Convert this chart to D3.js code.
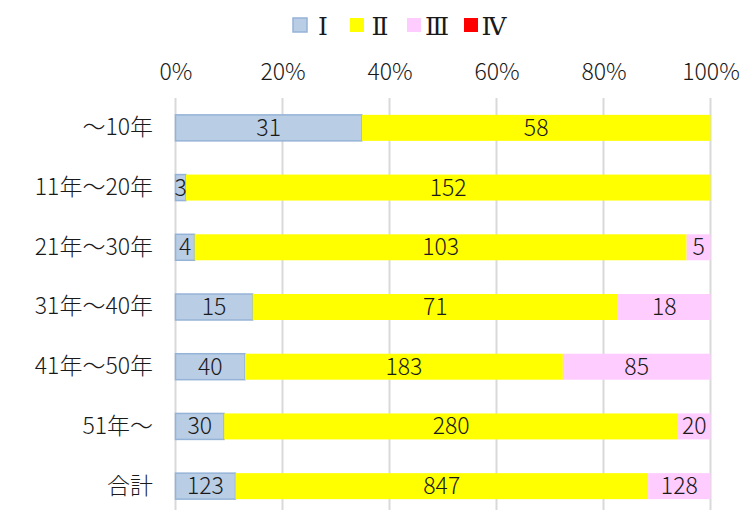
<!DOCTYPE html>
<html>
<head>
<meta charset="UTF-8" />
<script src="https://d3js.org/d3.v7.min.js"></script>
<style>
  body { margin: 0; background: #fff; }
  text { font-family: "Noto Sans CJK JP", "Noto Sans", sans-serif; font-weight: 300; fill: #1a1a1a; }
</style>
</head>
<body>
<svg width="744" height="510"></svg>
<script>
const categories = ["～10年", "11年～20年", "21年～30年", "31年～40年", "41年～50年", "51年～", "合計"];
const seriesNames = ["Ⅰ", "Ⅱ", "Ⅲ", "Ⅳ"];
const s1 = [31, 3, 4, 15, 40, 30, 123];
const s2 = [58, 152, 103, 71, 183, 280, 847];
const s3 = [0, 0, 5, 18, 85, 20, 128];
const s4 = [0, 0, 0, 0, 0, 0, 0];
const tickValues = [0, 0.2, 0.4, 0.6, 0.8, 1];

const colors = ["#b9cde5", "#ffff00", "#ffccff", "#ff0000"];
const strokes = ["#95b3d7", "none", "none", "none"];

const svg = d3.select("svg");
const fontSize = 23;

// build rows
const allSeries = [s1, s2, s3, s4];
const rows = categories.map((c, i) => {
  const row = { cat: c };
  seriesNames.forEach((s, j) => row[s] = allSeries[j][i]);
  return row;
});
const stacked = d3.stack().keys(seriesNames).offset(d3.stackOffsetExpand)(rows);

const x = d3.scaleLinear().domain([0, 1]).range([175.5, 710.5]);
const y = d3.scaleBand().domain(categories).range([98, 516]).paddingInner(0.565).paddingOuter(0.2825);

// gridlines
svg.append("g").selectAll("line").data(tickValues).join("line")
  .attr("x1", d => x(d)).attr("x2", d => x(d))
  .attr("y1", 98).attr("y2", 510)
  .attr("stroke", "#d9d9d9").attr("stroke-width", 2);

// top axis labels
const xAxis = d3.axisTop(x).tickValues(tickValues).tickFormat(d3.format(".0%")).tickSize(0).tickPadding(0);
const gx = svg.append("g").attr("transform", "translate(0,80)").call(xAxis);
gx.select(".domain").remove();
gx.selectAll("text").attr("font-size", fontSize).attr("font-family", null).attr("fill", "#1a1a1a").attr("dy", 0);

// category labels
const yAxis = d3.axisLeft(y).tickSize(0).tickPadding(0);
const gy = svg.append("g").attr("transform", "translate(153,0)").call(yAxis);
gy.select(".domain").remove();
gy.selectAll("text").attr("font-size", fontSize).attr("font-family", null).attr("fill", "#1a1a1a");

// bars
const layers = svg.append("g").selectAll("g").data(stacked).join("g")
  .attr("fill", (d, i) => colors[i])
  .attr("stroke", (d, i) => strokes[i])
  .attr("stroke-width", 1.5);

layers.selectAll("rect").data(d => d).join("rect")
  .attr("x", d => x(d[0]))
  .attr("width", d => x(d[1]) - x(d[0]))
  .attr("y", d => y(d.data.cat))
  .attr("height", y.bandwidth());

// value labels
stacked.forEach((layer, j) => {
  svg.append("g").selectAll("text").data(layer.filter(d => d.data[seriesNames[j]] > 0)).join("text")
    .attr("x", d => (x(d[0]) + x(d[1])) / 2)
    .attr("y", d => y(d.data.cat) + y.bandwidth() / 2)
    .attr("dy", "0.35em")
    .attr("text-anchor", "middle")
    .attr("font-size", fontSize)
    .text(d => d.data[seriesNames[j]]);
});

// legend
const legend = svg.append("g").selectAll("g").data(seriesNames).join("g")
  .attr("transform", (d, i) => `translate(${293 + i * 57},0)`);
legend.append("rect")
  .attr("x", 0).attr("y", 18).attr("width", 14).attr("height", 14)
  .attr("fill", (d, i) => colors[i])
  .attr("stroke", (d, i) => strokes[i]).attr("stroke-width", 1.5);
legend.append("text")
  .attr("x", 30).attr("y", 26).attr("dy", "0.35em")
  .attr("text-anchor", "middle")
  .attr("font-size", 25)
  .style("font-family", '"DejaVu Serif", "Liberation Serif", "Noto Sans CJK JP", serif')
  .style("font-weight", 400)
  .text(d => d);
</script>
</body>
</html>
